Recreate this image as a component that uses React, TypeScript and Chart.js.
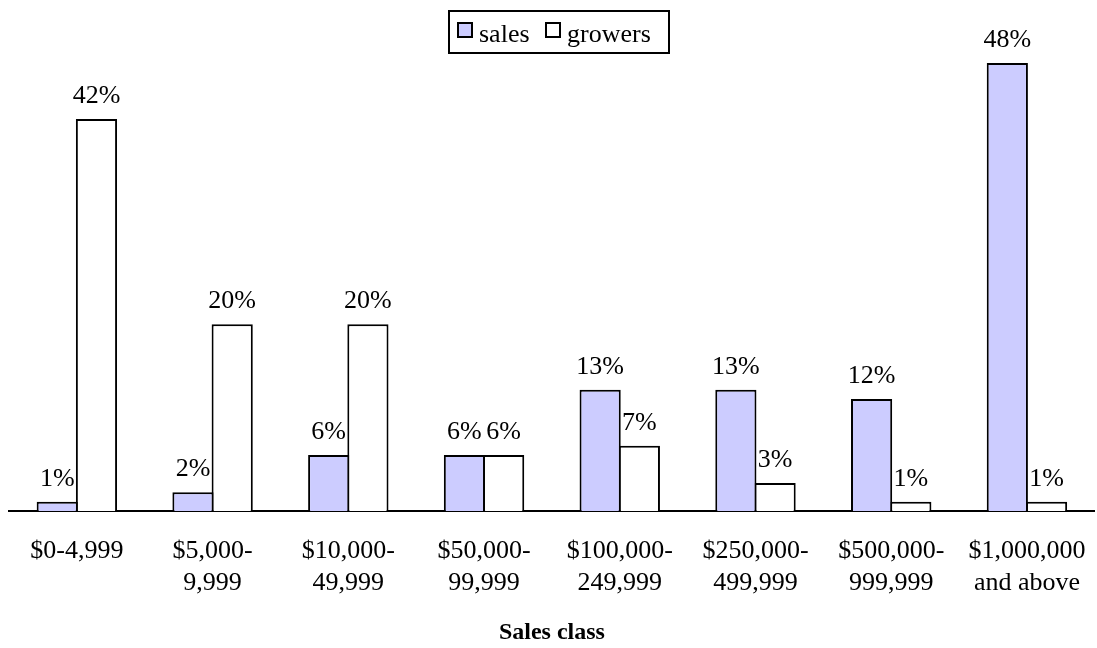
import React, { useEffect, useRef } from "react";
import { Chart, registerables } from "chart.js";

Chart.register(...registerables);

const categories: string[][] = [
  ["$0-4,999"],
  ["$5,000-", "9,999"],
  ["$10,000-", "49,999"],
  ["$50,000-", "99,999"],
  ["$100,000-", "249,999"],
  ["$250,000-", "499,999"],
  ["$500,000-", "999,999"],
  ["$1,000,000", "and above"],
];
const salesShare = [1, 2, 6, 6, 13, 13, 12, 48];
const growersShare = [42, 20, 20, 6, 7, 3, 1, 1];
const seriesNames = ["sales", "growers"];
const seriesColors = ["#CCCCFF", "#FFFFFF"];
const axisTitle = "Sales class";

const SERIF = "'Liberation Serif'";

// percentage labels above every bar
const valueLabels = {
  id: "valueLabels",
  afterDatasetsDraw(chart: any) {
    const ctx = chart.ctx;
    ctx.save();
    ctx.font = `26px ${SERIF}`;
    ctx.fillStyle = "#000";
    ctx.textAlign = "center";
    ctx.textBaseline = "alphabetic";
    chart.data.datasets.forEach((ds: any, di: number) => {
      const meta = chart.getDatasetMeta(di);
      meta.data.forEach((bar: any, i: number) => {
        ctx.fillText(`${ds.data[i]}%`, bar.x, bar.y - 16);
      });
    });
    ctx.restore();
  },
};

const legendSwatchLeft = [7, 95];
const legendTextLeft = [29, 117];

function Legend() {
  return (
    <div
      style={{
        position: "absolute",
        left: 448,
        top: 10,
        width: 222,
        height: 44,
        boxSizing: "border-box",
        border: "2px solid #000",
        fontFamily: SERIF,
        fontSize: 26,
        lineHeight: "26px",
        color: "#000",
      }}
    >
      {seriesNames.map((name, i) => (
        <React.Fragment key={name}>
          <div
            style={{
              position: "absolute",
              left: legendSwatchLeft[i],
              top: 10,
              width: 16,
              height: 16,
              boxSizing: "border-box",
              border: "2px solid #000",
              background: seriesColors[i],
            }}
          />
          <span
            style={{
              position: "absolute",
              left: legendTextLeft[i],
              top: 9,
              whiteSpace: "nowrap",
            }}
          >
            {name}
          </span>
        </React.Fragment>
      ))}
    </div>
  );
}

export default function App() {
  const ref = useRef<HTMLCanvasElement | null>(null);

  useEffect(() => {
    let chart: Chart | null = null;
    let frame = 0;
    let cancelled = false;

    const build = () => {
      if (cancelled || !ref.current) return;
      chart = new Chart(ref.current, {
        type: "bar",
        data: {
          labels: categories,
          datasets: [
            {
              label: seriesNames[0],
              data: salesShare,
              backgroundColor: seriesColors[0],
              borderColor: "#000",
              borderWidth: 2,
            },
            {
              label: seriesNames[1],
              data: growersShare,
              backgroundColor: seriesColors[1],
              borderColor: "#000",
              borderWidth: 2,
            },
          ],
        },
        options: {
          responsive: false,
          animation: false,
          devicePixelRatio: 1,
          layout: { padding: { left: 9, right: 9, top: 63, bottom: 0 } },
          datasets: {
            bar: { categoryPercentage: 0.578, barPercentage: 1.05 },
          },
          plugins: {
            legend: { display: false },
            tooltip: { enabled: false },
          },
          scales: {
            y: { display: false, min: 0, max: 48 },
            x: {
              z: 1,
              grid: { display: false, drawTicks: false },
              border: { display: true, color: "#000", width: 2 },
              ticks: {
                color: "#000",
                padding: 24,
                maxRotation: 0,
                autoSkip: false,
                font: { family: SERIF, size: 26, lineHeight: 32 / 26 },
              },
              title: {
                display: true,
                text: axisTitle,
                color: "#000",
                padding: { top: 0, bottom: 1 },
                font: { family: SERIF, size: 24, weight: "bold", lineHeight: 1.2 },
              },
              afterFit(scale: any) {
                scale.height = 137;
              },
            },
          },
        },
        plugins: [valueLabels],
      });
    };

    // build once layout (and the serif face used by the legend) is ready
    frame = requestAnimationFrame(() => {
      frame = requestAnimationFrame(build);
    });
    const fontSet: any = (document as any).fonts;
    if (fontSet && fontSet.ready) {
      fontSet.ready.then(() => {
        if (chart) chart.draw();
      });
    }

    return () => {
      cancelled = true;
      cancelAnimationFrame(frame);
      if (chart) chart.destroy();
    };
  }, []);

  return (
    <div
      style={{
        position: "fixed",
        left: 0,
        top: 0,
        width: 1097,
        height: 648,
        overflow: "hidden",
        background: "#fff",
        fontFamily: SERIF,
      }}
    >
      <canvas
        ref={ref}
        width={1110}
        height={648}
        style={{ display: "block", position: "absolute", left: 0, top: 0 }}
      />
      <Legend />
    </div>
  );
}
